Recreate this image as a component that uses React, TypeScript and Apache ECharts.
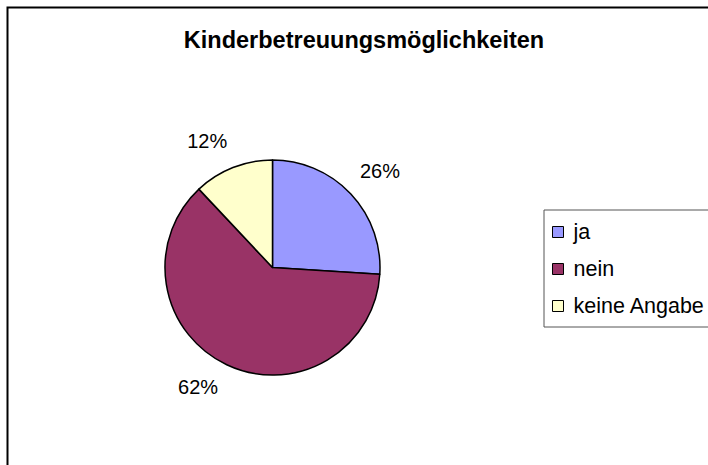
import React, { useEffect, useRef } from "react";
import * as echarts from "echarts";

const titleText = "Kinderbetreuungsmöglichkeiten";
const categories = ["ja", "nein", "keine Angabe"];
const values = [26, 62, 12];
const colors = ["#9999FF", "#993366", "#FFFFCC"];

const FONT = "'Liberation Sans', Arial, Helvetica, sans-serif";

export default function App() {
  const ref = useRef<HTMLDivElement>(null);
  useEffect(() => {
    if (!ref.current) return;
    const chart = echarts.init(ref.current, null, { renderer: "svg" });
    const data = categories.map((name, i) => ({
      name,
      value: values[i],
      itemStyle: { color: colors[i] },
    }));
    // small nudges of the label placement, as in the original chart
    const labelNudge: number[][] = [
      [4, 1],
      [-14, -9],
      [-13, 6],
    ];
    chart.setOption({
      animation: false,
      backgroundColor: "#ffffff",
      title: {
        text: titleText,
        left: 364,
        top: 40,
        textAlign: "center",
        textVerticalAlign: "middle",
        padding: 0,
        textStyle: {
          fontFamily: FONT,
          fontSize: 23.5,
          fontWeight: "bold",
          color: "#000",
        },
      },
      legend: {
        data: categories,
        orient: "vertical",
        left: 544,
        top: 210,
        padding: [11, 20, 10, 8],
        borderColor: "#555",
        borderWidth: 1,
        backgroundColor: "#fff",
        itemGap: 15,
        itemWidth: 11,
        itemHeight: 11,
        icon: "rect",
        selectedMode: false,
        itemStyle: { borderColor: "#000", borderWidth: 1 },
        textStyle: {
          fontFamily: FONT,
          fontSize: 21.5,
          lineHeight: 21.5,
          color: "#000",
          padding: [0, 0, 0, 5],
        },
      },
      graphic: [
        {
          type: "rect",
          shape: { x: 7.5, y: 7.5, width: 800, height: 600 },
          style: { fill: "none", stroke: "#000", lineWidth: 2 },
          silent: true,
          z: 100,
        },
      ],
      series: [
        {
          type: "pie",
          name: "Kinder",
          center: [272.5, 267.5],
          radius: [0, 107.5],
          startAngle: 90,
          clockwise: true,
          data,
          label: { show: false },
          labelLine: { show: false },
          itemStyle: { borderColor: "#000", borderWidth: 1.5 },
          emphasis: { disabled: true },
          silent: true,
        },
        {
          type: "pie",
          name: "labels",
          center: [272.5, 267.5],
          radius: [0, 278],
          startAngle: 90,
          clockwise: true,
          data: categories.map((name, i) => ({
            name,
            value: values[i],
            itemStyle: { color: "rgba(0,0,0,0)", borderWidth: 0 },
            label: { offset: labelNudge[i] },
          })),
          label: {
            show: true,
            position: "inside",
            formatter: "{c}%",
            fontFamily: FONT,
            fontSize: 20,
            color: "#000",
          },
          labelLine: { show: false },
          emphasis: { disabled: true },
          silent: true,
          z: 1,
        },
      ],
    });
    return () => chart.dispose();
  }, []);
  return (
    <div
      ref={ref}
      style={{ position: "absolute", left: 0, top: 0, width: 708, height: 465 }}
    />
  );
}
